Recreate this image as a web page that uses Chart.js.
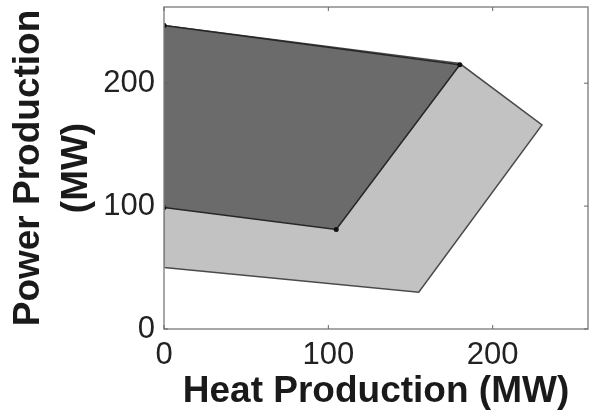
<!DOCTYPE html>
<html>
<head>
<meta charset="utf-8">
<script src="https://cdn.jsdelivr.net/npm/chart.js@4.4.0/dist/chart.umd.min.js"></script>
<style>
html,body{margin:0;padding:0;background:#fff;}
#wrap{width:592px;height:417px;}
</style>
</head>
<body>
<div id="wrap"><canvas id="c" width="592" height="417"></canvas></div>
<script>
// Feasible operating region of CHP units (heat vs power)
const upperHeat  = [0, 180, 104.8, 0, 0];
const upperPower = [247, 215, 81, 98.8, 247];
const lowerHeat  = [0, 155, 230, 180, 0, 0];
const lowerPower = [50, 30, 166, 216, 247, 50];
const xTicks = [0, 100, 200];
const yTicks = [0, 100, 200];
const xMax = 258;
const yMax = 262;

const toPts = (xs, ys) => xs.map((x, i) => ({x: x, y: ys[i]}));

const framePlugin = {
  id: 'frame',
  afterDatasetsDraw(chart) {
    const {ctx, chartArea: a, scales: {x, y}} = chart;
    ctx.save();
    ctx.strokeStyle = '#8a8a8a';
    ctx.lineWidth = 1.5;
    ctx.strokeRect(a.left, a.top, a.right - a.left, a.bottom - a.top);
    ctx.strokeStyle = '#666';
    ctx.lineWidth = 1;
    const tl = 4;
    xTicks.forEach(v => {
      const px = x.getPixelForValue(v);
      ctx.beginPath();
      ctx.moveTo(px, a.bottom); ctx.lineTo(px, a.bottom - tl);
      ctx.moveTo(px, a.top); ctx.lineTo(px, a.top + tl);
      ctx.stroke();
    });
    yTicks.forEach(v => {
      const py = y.getPixelForValue(v);
      ctx.beginPath();
      ctx.moveTo(a.left, py); ctx.lineTo(a.left + tl, py);
      ctx.moveTo(a.right, py); ctx.lineTo(a.right - tl, py);
      ctx.stroke();
    });
    ctx.restore();
  }
};

new Chart(document.getElementById('c'), {
  type: 'scatter',
  data: {
    datasets: [
      {
        data: toPts(upperHeat, upperPower),
        showLine: true,
        fill: 'shape',
        backgroundColor: '#6b6b6b',
        borderColor: '#262626',
        borderWidth: 1.5,
        pointRadius: 2.5,
        pointBackgroundColor: '#111',
        pointBorderWidth: 0,
        order: 0
      },
      {
        data: toPts(lowerHeat, lowerPower),
        showLine: true,
        fill: 'shape',
        backgroundColor: '#c2c2c2',
        borderColor: '#4a4a4a',
        borderWidth: 1.5,
        pointRadius: 0,
        order: 1
      }
    ]
  },
  options: {
    responsive: false,
    animation: false,
    events: [],
    layout: {padding: {left: 0, right: 2, top: 7, bottom: 0}},
    plugins: {
      legend: {display: false},
      tooltip: {enabled: false},
      filler: {drawTime: 'beforeDatasetDraw'}
    },
    scales: {
      x: {
        type: 'linear',
        min: 0, max: xMax,
        afterBuildTicks: s => { s.ticks = xTicks.map(v => ({value: v})); },
        afterFit: s => { s.height = 417 - 329; s.paddingLeft = 0; s.paddingRight = 0; },
        grid: {display: false, drawTicks: false},
        border: {display: false},
        ticks: {
          padding: 8,
          color: '#222',
          font: {family: 'Liberation Sans, Arial, sans-serif', size: 31}
        },
        title: {
          display: true,
          text: 'Heat Production (MW)',
          color: '#1a1a1a',
          padding: {top: 0, bottom: 3},
          font: {family: 'Liberation Sans, Arial, sans-serif', size: 37, weight: 'bold', lineHeight: 1.2}
        }
      },
      y: {
        type: 'linear',
        min: 0, max: yMax,
        afterBuildTicks: s => { s.ticks = yTicks.map(v => ({value: v})); },
        afterFit: s => { s.width = 164; s.paddingTop = 0; s.paddingBottom = 0; },
        grid: {display: false, drawTicks: false},
        border: {display: false},
        ticks: {
          padding: 9,
          color: '#222',
          font: {family: 'Liberation Sans, Arial, sans-serif', size: 31}
        },
        title: {
          display: true,
          text: ['Power Production', '(MW)'],
          color: '#1a1a1a',
          padding: {top: 4, bottom: 0},
          font: {family: 'Liberation Sans, Arial, sans-serif', size: 37, weight: 'bold', lineHeight: 1.32}
        }
      }
    }
  },
  plugins: [framePlugin]
});
</script>
</body>
</html>
